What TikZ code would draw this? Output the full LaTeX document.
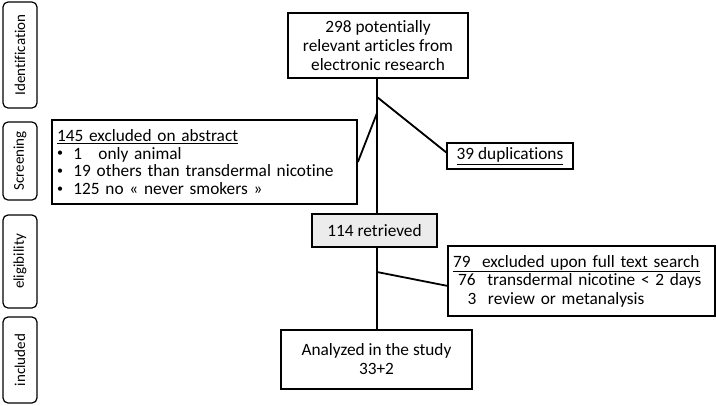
\documentclass[tikz,border=0pt]{standalone}
\usepackage{fontspec}
\setmainfont[Ligatures=NoCommon]{Carlito}
\newcommand{\smbul}{\raisebox{0.12em}{\fontsize{12}{12}\selectfont\textbullet}}
\begin{document}
\begin{tikzpicture}[x=1pt,y=-1pt,
  box/.style={draw=black,line width=1.8pt,inner sep=1pt,align=center,font=\fontsize{17.3}{19}\selectfont},
  stage/.style={draw=black,line width=1.2pt,rounded corners=5pt,inner sep=0pt,rotate=90,font=\fontsize{15}{18}\selectfont},
  link/.style={line width=1.8pt}]
\useasboundingbox (0,0) rectangle (716,405);
% stage labels
\node[stage,minimum width=106,minimum height=34] (sid) at (20,55) {Identification};
\node[stage,minimum width=78,minimum height=34] (sscr) at (20,161) {Screening};
\node[stage,minimum width=93,minimum height=34] (selig) at (20,261.5) {eligibility};
\node[stage,minimum width=86,minimum height=34] (sinc) at (20,360) {included};
% boxes
\node[box,minimum width=180,minimum height=65] (top) at (378,45.5) {298 potentially\\relevant articles from\\electronic research};
\node[box,minimum width=126,minimum height=26] (dup) at (510,156) {\underline{39 duplications}};
\node[box,minimum width=305,minimum height=84,align=left,text width=295,font=\fontsize{17.3}{17.8}\selectfont] (ex145) at (204.5,162)
  {\underline{145 excluded on abstract}\\
   \smbul\hspace{0.6em}\makebox[1.45em][l]{1}only animal\\
   \smbul\hspace{0.6em}19 others than transdermal nicotine\\
   \smbul\hspace{0.6em}125 no « never smokers »};
\node[box,fill={rgb,255:red,236;green,236;blue,236},minimum width=125,minimum height=33] (ret) at (374.5,230.5) {114 retrieved};
\node[box,minimum width=267,minimum height=70,align=left,text width=257,font=\fontsize{17.3}{18.5}\selectfont] (ex79) at (581.5,281)
  {\underline{79\ \ excluded upon full text search}\\
   \hspace{0.3em}76\ \ transdermal nicotine < 2 days\\
   \hspace{0.85em}3\ \ review or metanalysis};
\node[box,minimum width=191,minimum height=59] (ana) at (376.5,359.5) {Analyzed in the study\\33+2};
% trunk coordinates
\coordinate (b1) at (377,97);
\coordinate (b2) at (377,113);
\coordinate (b3) at (377,272);
\coordinate (d1) at (447,153);
\coordinate (e1) at (448,286);
% connectors
\draw[link] (top.south -| b1) -- (ret.north -| b1);
\draw[link] (ret.south -| b3) -- (ana.north -| b3);
\draw[link] (b1) -- (d1);
\draw[link] (b2) -- (ex145.east);
\draw[link] (b3) -- (e1);
\end{tikzpicture}
\end{document}
